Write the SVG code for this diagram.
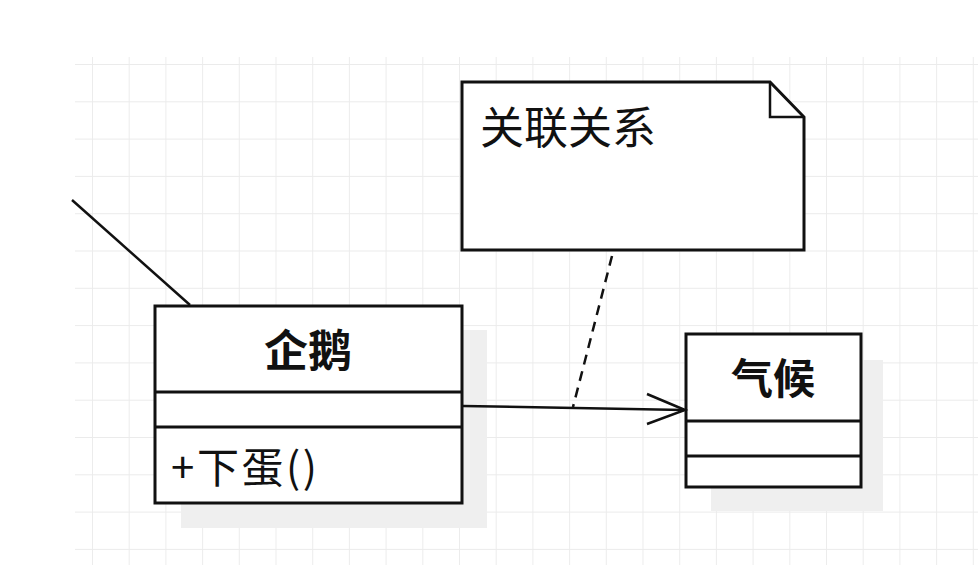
<svg xmlns="http://www.w3.org/2000/svg" width="978" height="574" viewBox="0 0 978 574">
<style>
.box{fill:#fff;stroke:#111;stroke-width:3}
.div{stroke:#111;stroke-width:3}
.shadow{fill:#efefef}
.title{font-family:"Noto Sans CJK SC","Noto Sans",sans-serif;font-weight:bold;fill:#111;text-anchor:middle}
.txt{font-family:"Noto Sans CJK SC","Noto Sans",sans-serif;fill:#111}
.conn{fill:none;stroke:#111;stroke-width:2.5}
</style>
<defs>
<pattern id="grid" x="92" y="64" width="36.7" height="37.3" patternUnits="userSpaceOnUse">
<path d="M0 0V37.3M0 0H36.7" fill="none" stroke="#ebebeb" stroke-width="1.8"/>
</pattern>
</defs>
<rect width="978" height="574" fill="#fff"/>
<rect x="75" y="57" width="903" height="508" fill="url(#grid)"/>
<g id="penguin">
<rect class="shadow" x="181" y="330" width="306" height="198"/>
<rect class="box" x="155" y="306" width="307" height="197"/>
<line class="div" x1="155" y1="392" x2="462" y2="392"/>
<line class="div" x1="155" y1="427" x2="462" y2="427"/>
<text class="title" x="308" y="367" font-size="44">企鹅</text>
<text class="txt" x="171" y="483" font-size="42" textLength="146" lengthAdjust="spacing">+下蛋()</text>
</g>
<g id="climate">
<rect class="shadow" x="711" y="360" width="172" height="151"/>
<rect class="box" x="686" y="334" width="175" height="153"/>
<line class="div" x1="686" y1="421" x2="861" y2="421"/>
<line class="div" x1="686" y1="456" x2="861" y2="456"/>
<text class="title" x="773" y="394" font-size="42">气候</text>
</g>
<g id="note">
<path class="box" d="M462 82H770L804 117V250H462Z"/>
<path class="conn" stroke-width="3" d="M770 82V117H804"/>
<text class="txt" x="480" y="144" font-size="44">关联关系</text>
</g>
<g id="connectors">
<path class="conn" d="M72 200L190 305"/>
<path class="conn" d="M463 406L684 410"/>
<path class="conn" d="M647 394L685 410L647 424"/>
<path class="conn" d="M612 256L573 407" stroke-dasharray="10 7"/>
</g>
</svg>
